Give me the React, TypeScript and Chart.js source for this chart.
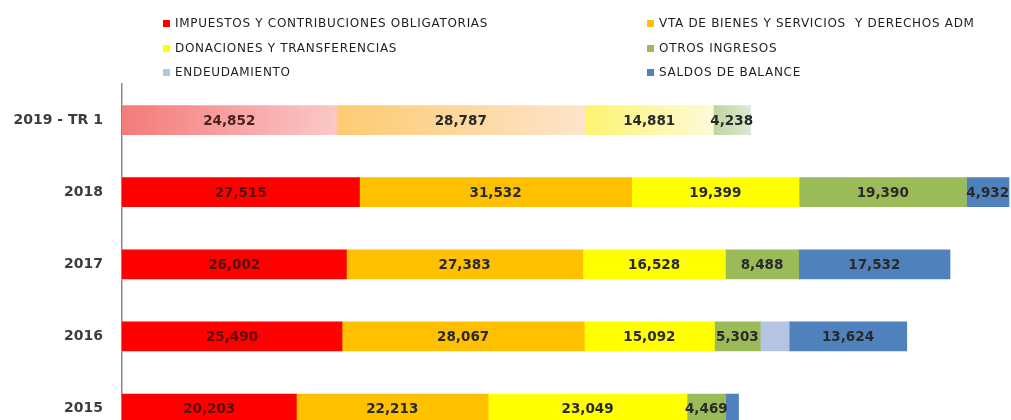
import React, { useEffect, useRef } from "react";
import { Chart, registerables } from "chart.js";

Chart.register(...registerables);

const categories = ["2019 - TR 1", "2018", "2017", "2016", "2015"];

const impuestos = [24852, 27515, 26002, 25490, 20203];
const ventas = [28787, 31532, 27383, 28067, 22213];
const donaciones = [14881, 19399, 16528, 15092, 23049];
const otros = [4238, 19390, 8488, 5303, 4469];
const endeudamiento = [0, 0, 0, 3350, 0];
const saldos = [0, 4932, 17532, 13624, 1500];

const seriesNames = [
  "IMPUESTOS Y CONTRIBUCIONES OBLIGATORIAS",
  "VTA DE BIENES Y SERVICIOS  Y DERECHOS ADM",
  "DONACIONES Y TRANSFERENCIAS",
  "OTROS INGRESOS",
  "ENDEUDAMIENTO",
  "SALDOS DE BALANCE",
];

const seriesValues = [impuestos, ventas, donaciones, otros, endeudamiento, saldos];
const seriesColors = ["#FF0000", "#FFC000", "#FFFF00", "#9BBB59", "#B4C4E2", "#4F81BD"];
// faded gradient colours for the partial-year bar (start, end)
const fadedColors = [
  ["#F47A7A", "#FBC8C8"],
  ["#FDCB70", "#FDE4CC"],
  ["#FDF470", "#FDFAD8"],
  ["#BDD5A0", "#DDE9D0"],
  ["#D5DDEE", "#E8EDF6"],
  ["#9DB6DA", "#C9D7EC"],
];
const labelColors = ["#5A0C0C", "#2A2A2A", "#2A2A2A", "#2A2A2A", "#2A2A2A", "#2A2A2A"];
const labelThreshold = 4000;

// legend order: two columns
const legendCols = [
  [0, 2, 4],
  [1, 3, 5],
];

const valueLabelPlugin = {
  id: "valueLabels",
  afterDatasetsDraw(chart: any) {
    const ctx = chart.ctx;
    ctx.save();
    ctx.font = "bold 13.5px 'DejaVu Sans'";
    ctx.textAlign = "center";
    ctx.textBaseline = "middle";
    chart.data.datasets.forEach((ds: any, di: number) => {
      const meta = chart.getDatasetMeta(di);
      meta.data.forEach((el: any, i: number) => {
        const v = ds.data[i];
        if (!v || v < labelThreshold) return;
        const cx = (el.x + el.base) / 2;
        ctx.fillStyle = i === 0 && di === 0 ? "#4A2222" : labelColors[di];
        ctx.fillText(v.toLocaleString("en-US"), cx, el.y + 1);
      });
    });
    ctx.restore();
  },
};

export default function App() {
  const ref = useRef<HTMLCanvasElement>(null);

  useEffect(() => {
    document.body.style.margin = "0";
    if (!ref.current) return;
    const datasets = seriesValues.map((vals, si) => ({
      label: seriesNames[si],
      data: vals,
      borderWidth: 0,
      backgroundColor: (c: any) => {
        if (c.dataIndex !== 0) return seriesColors[si];
        const chart = c.chart;
        const xs = chart.scales && chart.scales.x;
        if (!xs || !chart.chartArea) return fadedColors[si][0];
        let start = 0;
        for (let k = 0; k < si; k++) start += seriesValues[k][0];
        const end = start + vals[0];
        const x0 = xs.getPixelForValue(start);
        const x1 = xs.getPixelForValue(end);
        if (!isFinite(x0) || !isFinite(x1) || x1 <= x0) return fadedColors[si][0];
        const g = chart.ctx.createLinearGradient(x0, 0, x1, 0);
        g.addColorStop(0, fadedColors[si][0]);
        g.addColorStop(1, fadedColors[si][1]);
        return g;
      },
    }));
    const chart = new Chart(ref.current, {
      type: "bar",
      data: { labels: categories, datasets },
      options: {
        indexAxis: "y",
        animation: false,
        responsive: false,
        maintainAspectRatio: false,
        layout: { padding: { top: 84, bottom: 2, left: 0, right: 0 } },
        datasets: { bar: { barThickness: 29 } },
        plugins: { legend: { display: false }, tooltip: { enabled: false } },
        scales: {
          x: {
            stacked: true,
            display: false,
            min: 0,
            max: 103000,
          },
          y: {
            stacked: true,
            grid: { display: false, drawTicks: false },
            border: { display: true, color: "#8A8A8A", width: 1.5 },
            ticks: {
              color: "#3C3C3C",
              padding: 19,
              font: { family: "'DejaVu Sans'", size: 14, weight: "bold" },
            },
            afterFit: (scale: any) => {
              scale.width = 122;
            },
          },
        },
      } as any,
      plugins: [valueLabelPlugin],
    });
    return () => chart.destroy();
  }, []);

  const legendRowY = [23, 48, 72];
  const legendColX = [163, 647];

  return (
    <div style={{ position: "relative", width: 1011, height: 420, overflow: "hidden", background: "#fff" }}>
      <canvas ref={ref} width={1011} height={472} style={{ position: "absolute", left: 0, top: 0, width: 1011, height: 472 }} />
      {legendCols.map((col, ci) =>
        col.map((si, ri) => (
          <div
            key={si}
            style={{
              position: "absolute",
              left: legendColX[ci],
              top: legendRowY[ri] - 8,
              height: 16,
              display: "flex",
              alignItems: "center",
              fontFamily: "'DejaVu Sans', sans-serif",
              fontSize: 12,
              letterSpacing: 0.7,
              color: "#1E1E1E",
              whiteSpace: "pre",
            }}
          >
            <span
              style={{
                display: "inline-block",
                width: 7,
                height: 7,
                background: seriesColors[si],
                marginRight: 5,
              }}
            />
            {seriesNames[si]}
          </div>
        ))
      )}
    </div>
  );
}
